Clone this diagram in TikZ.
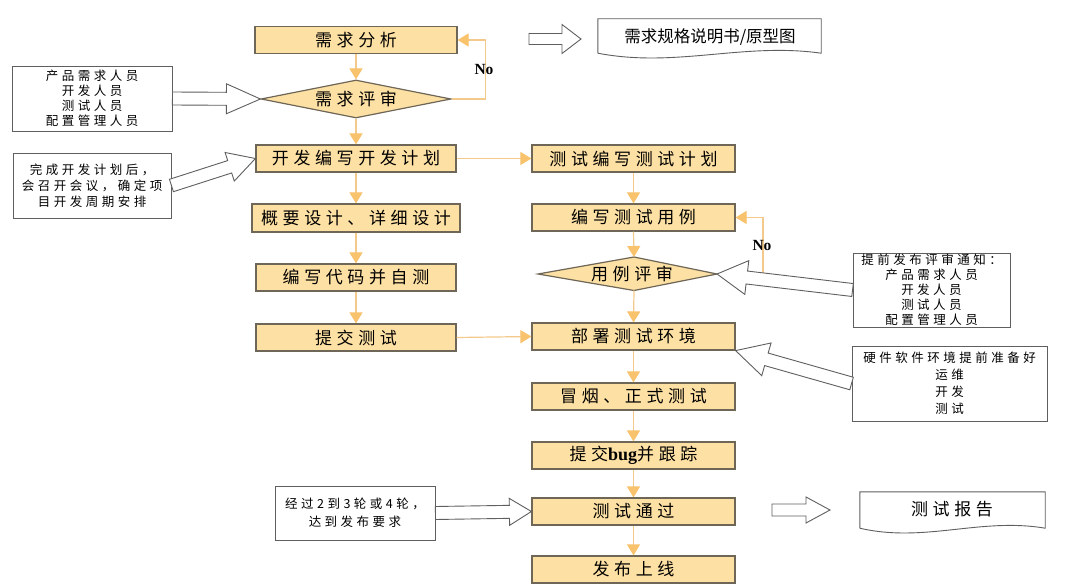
\documentclass[tikz,border=0pt]{standalone}
\usepackage{fontspec}
\setmainfont{Noto Sans CJK SC}
\newfontfamily\boxfont[LetterSpace=27]{Noto Sans CJK SC}
\newfontfamily\notefont[LetterSpace=28]{Noto Sans CJK SC}
\newfontfamily\latinserif{Liberation Serif}
\usetikzlibrary{calc,arrows.meta,shapes.geometric}

\definecolor{boxfill}{RGB}{253,224,163}
\definecolor{boxline}{RGB}{110,102,86}
\definecolor{conn}{RGB}{243,202,140}
\definecolor{tipc}{RGB}{249,194,108}
\definecolor{noteline}{RGB}{95,95,95}

\tikzset{
  procbox/.style={draw=boxline, line width=1.2pt, fill=boxfill, minimum height=27pt,
    inner sep=0pt, font=\boxfont\fontsize{17}{20}\selectfont},
  decbox/.style={diamond, aspect=5, draw=boxline, line width=1.2pt, fill=boxfill,
    inner sep=0pt, font=\boxfont\fontsize{17}{20}\selectfont},
  kite/.style={draw=boxline, line width=1.2pt, fill=boxfill},
  plaintext/.style={inner sep=0pt, font=\boxfont\fontsize{17}{20}\selectfont},
  notebox/.style={draw=noteline, line width=0.9pt, fill=white, align=center,
    inner sep=0pt, font=\notefont\fontsize{12.5}{15}\selectfont},
  flow/.style={draw=conn, line width=1.2pt,
    -{Triangle[width=13pt,length=11pt,fill=tipc,color=tipc]}},
  barrow/.style={draw=noteline, line width=0.9pt, fill=white, line join=miter},
  docline/.style={draw=noteline, line width=0.9pt, fill=white},
  nolabel/.style={inner sep=0pt, font=\latinserif\bfseries\fontsize{15.5}{17}\selectfont}
}

% block arrow: #1 from, #2 to, #3 shaft half width, #4 head half width, #5 head length (pt)
\newcommand\blockarr[5]{%
  \path let \p1=($(#2)-(#1)$) in \pgfextra{%
    \pgfmathsetmacro\baangtmp{atan2(\y1,\x1)}%
    \pgfmathsetmacro\balentmp{veclen(\x1,\y1)}%
    \global\let\baang\baangtmp \global\let\balen\balentmp};
  \filldraw[barrow, shift={(#1)}, rotate=\baang]
    (0pt,#3pt) -- ({(\balen-#5)*1pt},#3pt) -- ({(\balen-#5)*1pt},#4pt)
    -- ({\balen*1pt},0pt) -- ({(\balen-#5)*1pt},-#4pt)
    -- ({(\balen-#5)*1pt},-#3pt) -- (0pt,-#3pt) -- cycle;
}

% document shape around node #1
\newcommand\docshape[1]{%
  \filldraw[docline] (#1.south west) -- (#1.north west) -- (#1.north east) -- (#1.south east)
    .. controls ($(#1.south east)!0.35!(#1.south west)+(0,11pt)$)
    and ($(#1.south east)!0.65!(#1.south west)+(0,-15pt)$) .. (#1.south west);
}

\begin{document}
\begin{tikzpicture}[x=1pt,y=-1pt]
\fill[white] (0,0) rectangle (1089,585);
\useasboundingbox (0,0) rectangle (1089,585);

% left column
\node[procbox, minimum width=202pt] (req) at (356,40) {需求分析};
\node[decbox, minimum width=190pt, minimum height=38pt] (d1) at (356,99) {需求评审};
\node[procbox, minimum width=200pt] (dev) at (356,158.5) {开发编写开发计划};
\node[procbox, minimum width=208pt, minimum height=28pt] (design) at (356,218) {概要设计、详细设计};
\node[procbox, minimum width=200pt] (code) at (356,277.5) {编写代码并自测};
\node[procbox, minimum width=200pt] (submit) at (356,337.5) {提交测试};

% right column
\node[procbox, minimum width=203pt] (tplan) at (633.5,158.5) {测试编写测试计划};
\node[procbox, minimum width=203pt] (tcase) at (633.5,217.5) {编写测试用例};
\coordinate (d2w) at (538,274);
\coordinate (d2n) at (634,257);
\coordinate (d2e) at (717,274);
\coordinate (d2s) at (634,290.5);
\filldraw[kite] (d2w) -- (d2n) -- (d2e) -- (d2s) -- cycle;
\node[plaintext] (d2) at (632,274) {用例评审};
\node[procbox, minimum width=203pt] (deploy) at (633.5,336.5) {部署测试环境};
\node[procbox, minimum width=203pt] (smoke) at (633.5,396.5) {冒烟、正式测试};
\node[procbox, minimum width=203pt] (bug) at (633.5,455.5) {提交{\latinserif\bfseries\fontsize{18}{20}\selectfont bug}并跟踪};
\node[procbox, minimum width=203pt] (pass) at (633.5,511.5) {测试通过};
\node[procbox, minimum width=203pt] (release) at (633.5,569.5) {发布上线};

% notes
\node[notebox, minimum width=160pt, minimum height=65pt] (n1) at (92,98.5)
  {产品需求人员\\开发人员\\测试人员\\配置管理人员};
\node[notebox, minimum width=158pt, minimum height=65pt, font=\notefont\fontsize{12.5}{16}\selectfont] (n2) at (92,185.5)
  {完成开发计划后，\\会召开会议，确定项\\目开发周期安排};
\node[notebox, minimum width=157pt, minimum height=74pt] (n3) at (931.5,290)
  {提前发布评审通知：\\产品需求人员\\开发人员\\测试人员\\配置管理人员};
\node[notebox, minimum width=195pt, minimum height=75pt, font=\notefont\fontsize{12.5}{17}\selectfont] (n4) at (949.5,383.5)
  {硬件软件环境提前准备好\\运维\\开发\\测试};
\node[notebox, minimum width=160pt, minimum height=54pt, font=\notefont\fontsize{12.5}{18}\selectfont] (n5) at (355,513)
  {经过2到3轮或4轮，\\达到发布要求};

% documents
\node[minimum width=223pt, minimum height=34pt, inner sep=0pt] (doc1) at (709.5,36) {};
\docshape{doc1}
\node[inner sep=0pt, font=\fontsize{16.5}{19}\selectfont] (doc1t) at (710,37) {需求规格说明书/原型图};
\node[minimum width=185pt, minimum height=36pt, inner sep=0pt] (doc2) at (952.5,510) {};
\docshape{doc2}
\node[plaintext] (doc2t) at (952,509) {测试报告};

% flow connectors
\draw[flow] (req.south) -- (d1.north);
\draw[flow] (d1.south) -- (dev.north);
\draw[flow] (dev.south) -- (design.north);
\draw[flow] (design.south) -- (code.north);
\draw[flow] (code.south) -- (submit.north);
\draw[flow] (dev.east) -- (tplan.west);
\draw[flow] (submit.east) -- (deploy.west);
\draw[flow] (tplan.south) -- (tcase.north);
\draw[flow] (tcase.south) -- (d2n);
\draw[flow] (d2s) -- (deploy.north);
\draw[flow] (deploy.south) -- (smoke.north);
\draw[flow] (smoke.south) -- (bug.north);
\draw[flow] (bug.south) -- (pass.north);
\draw[flow] (pass.south) -- (release.north);
\draw[flow] (d1.east) -- ([xshift=34pt]d1.east) |- (req.east);
\draw[flow] (d2e) -- ([xshift=46pt]d2e) |- (tcase.east);
\node[nolabel] (no1) at (484,70) {No};
\node[nolabel] (no2) at (762,246) {No};

% block arrows
\coordinate (ta1) at (529,39);
\coordinate (ta2) at (581,39);
\coordinate (tb1) at (772,510);
\coordinate (tb2) at (830,510);
\blockarr{ta1}{ta2}{5.5}{14.5}{19}
\blockarr{tb1}{tb2}{6}{13}{24}
\blockarr{n1.east}{d1.west}{6.5}{15}{34}
\blockarr{n2.east}{dev.west}{6.5}{15}{27}
\blockarr{n3.west}{d2e}{6.5}{17}{30}
\blockarr{n4.west}{deploy.south east}{6.5}{17}{32}
\blockarr{n5.east}{pass.west}{6.5}{13.5}{22}
\end{tikzpicture}
\end{document}
